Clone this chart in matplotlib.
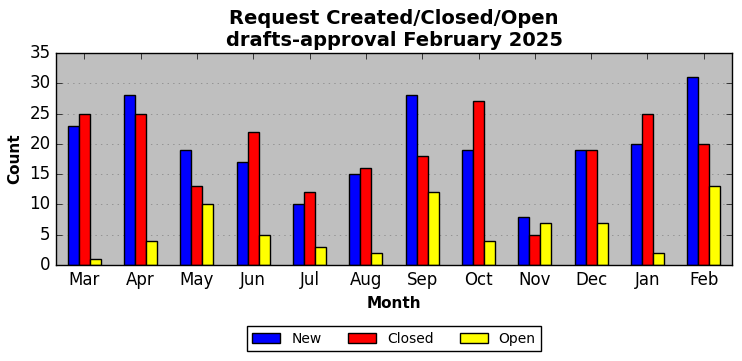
import matplotlib
matplotlib.use("Agg")
import matplotlib.pyplot as plt
import numpy as np

months = ["Mar", "Apr", "May", "Jun", "Jul", "Aug", "Sep", "Oct", "Nov", "Dec", "Jan", "Feb"]
new_vals = [23, 28, 19, 17, 10, 15, 28, 19, 8, 19, 20, 31]
closed_vals = [25, 25, 13, 22, 12, 16, 18, 27, 5, 19, 25, 20]
open_vals = [1, 4, 10, 5, 3, 2, 12, 4, 7, 7, 2, 13]

plt.style.use("classic")
fig = plt.figure(figsize=(7.42, 3.61), dpi=100)
ax = fig.add_axes([56/742, 1-265/361, 676/742, 212/361])
ax.set_facecolor("#bfbfbf")

x = np.arange(len(months))
w = 0.196
for i, (vals, col, lab) in enumerate([(new_vals, "blue", "New"), (closed_vals, "red", "Closed"), (open_vals, "yellow", "Open")]):
    ax.bar(x + (i-1)*w, vals, w, color=col, edgecolor="black", linewidth=1, label=lab, align="center")

ax.set_xlim(-0.5, len(months)-0.5)
ax.set_ylim(0, 35)
ax.set_xticks(x)
ax.set_xticklabels(months, fontsize=12)
ax.set_yticks(range(0, 36, 5))
ax.tick_params(axis="y", labelsize=12)
ax.yaxis.grid(True, linestyle=":", color="gray")
ax.xaxis.grid(False)
ax.set_axisbelow(True)
ax.set_xlabel("Month", fontsize=11, fontweight="bold")
ax.set_ylabel("Count", fontsize=11, fontweight="bold")
ax.set_title("Request Created/Closed/Open\ndrafts-approval February 2025", fontsize=14, fontweight="bold")
leg = ax.legend(loc="upper center", bbox_to_anchor=(0.5, -0.255), ncol=3, fontsize=10,
                frameon=True, fancybox=False, handlelength=2.0, columnspacing=1.9)
fig.savefig("out.png", dpi=100, facecolor="white")
